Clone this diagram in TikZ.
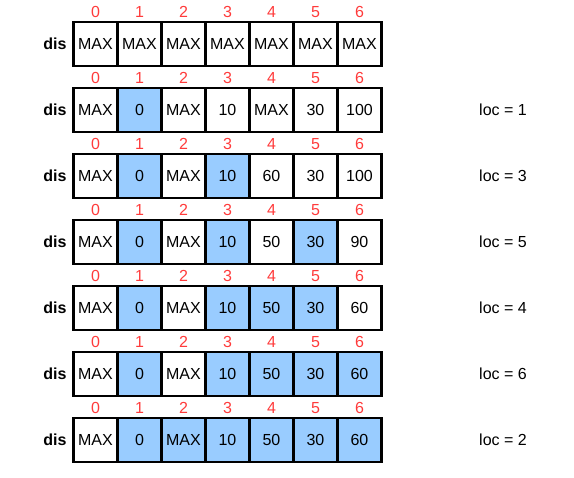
\documentclass[tikz,border=0pt]{standalone}
\usepackage{fontspec}
\setmainfont{Liberation Sans}
\definecolor{cellblue}{HTML}{99CCFF}
\definecolor{idxred}{HTML}{FF3B3B}
\tikzset{
  cell/.style={draw=black, line width=2.2pt, minimum width=44pt, minimum height=44pt, inner sep=0pt, font=\fontsize{16}{19}\selectfont},
  b0/.style={fill=white},
  b1/.style={fill=cellblue},
  idx/.style={text=idxred, font=\fontsize{16}{19}\selectfont, inner sep=0pt},
  dislbl/.style={font=\bfseries\fontsize{16}{19}\selectfont, inner sep=0pt},
  loclbl/.style={font=\fontsize{16}{19}\selectfont, inner sep=0pt}
}
\begin{document}
\begin{tikzpicture}[x=1pt,y=-1pt]
\useasboundingbox (0,0) rectangle (574,478);
\foreach \vals [count=\r from 0] in {
  {MAX/0,MAX/0,MAX/0,MAX/0,MAX/0,MAX/0,MAX/0},
  {MAX/0,0/1,MAX/0,10/0,MAX/0,30/0,100/0},
  {MAX/0,0/1,MAX/0,10/1,60/0,30/0,100/0},
  {MAX/0,0/1,MAX/0,10/1,50/0,30/1,90/0},
  {MAX/0,0/1,MAX/0,10/1,50/1,30/1,60/0},
  {MAX/0,0/1,MAX/0,10/1,50/1,30/1,60/1},
  {MAX/0,0/1,MAX/1,10/1,50/1,30/1,60/1}} {
  \node[dislbl] (dis-\r) at (55,44+66*\r) {dis};
  \foreach \v/\f [count=\i from 0] in \vals {
    \node[cell,b\f] (c-\r-\i) at (95.5+44*\i,44+66*\r) {\v};
    \node[idx] (i-\r-\i) at (95.5+44*\i,12+66*\r) {\i};
  }
}
\foreach \l [count=\r] in {1,3,5,4,6,2} {
  \node[loclbl] (loc-\r) at (503,44+66*\r) {loc = \l};
}
\end{tikzpicture}
\end{document}
